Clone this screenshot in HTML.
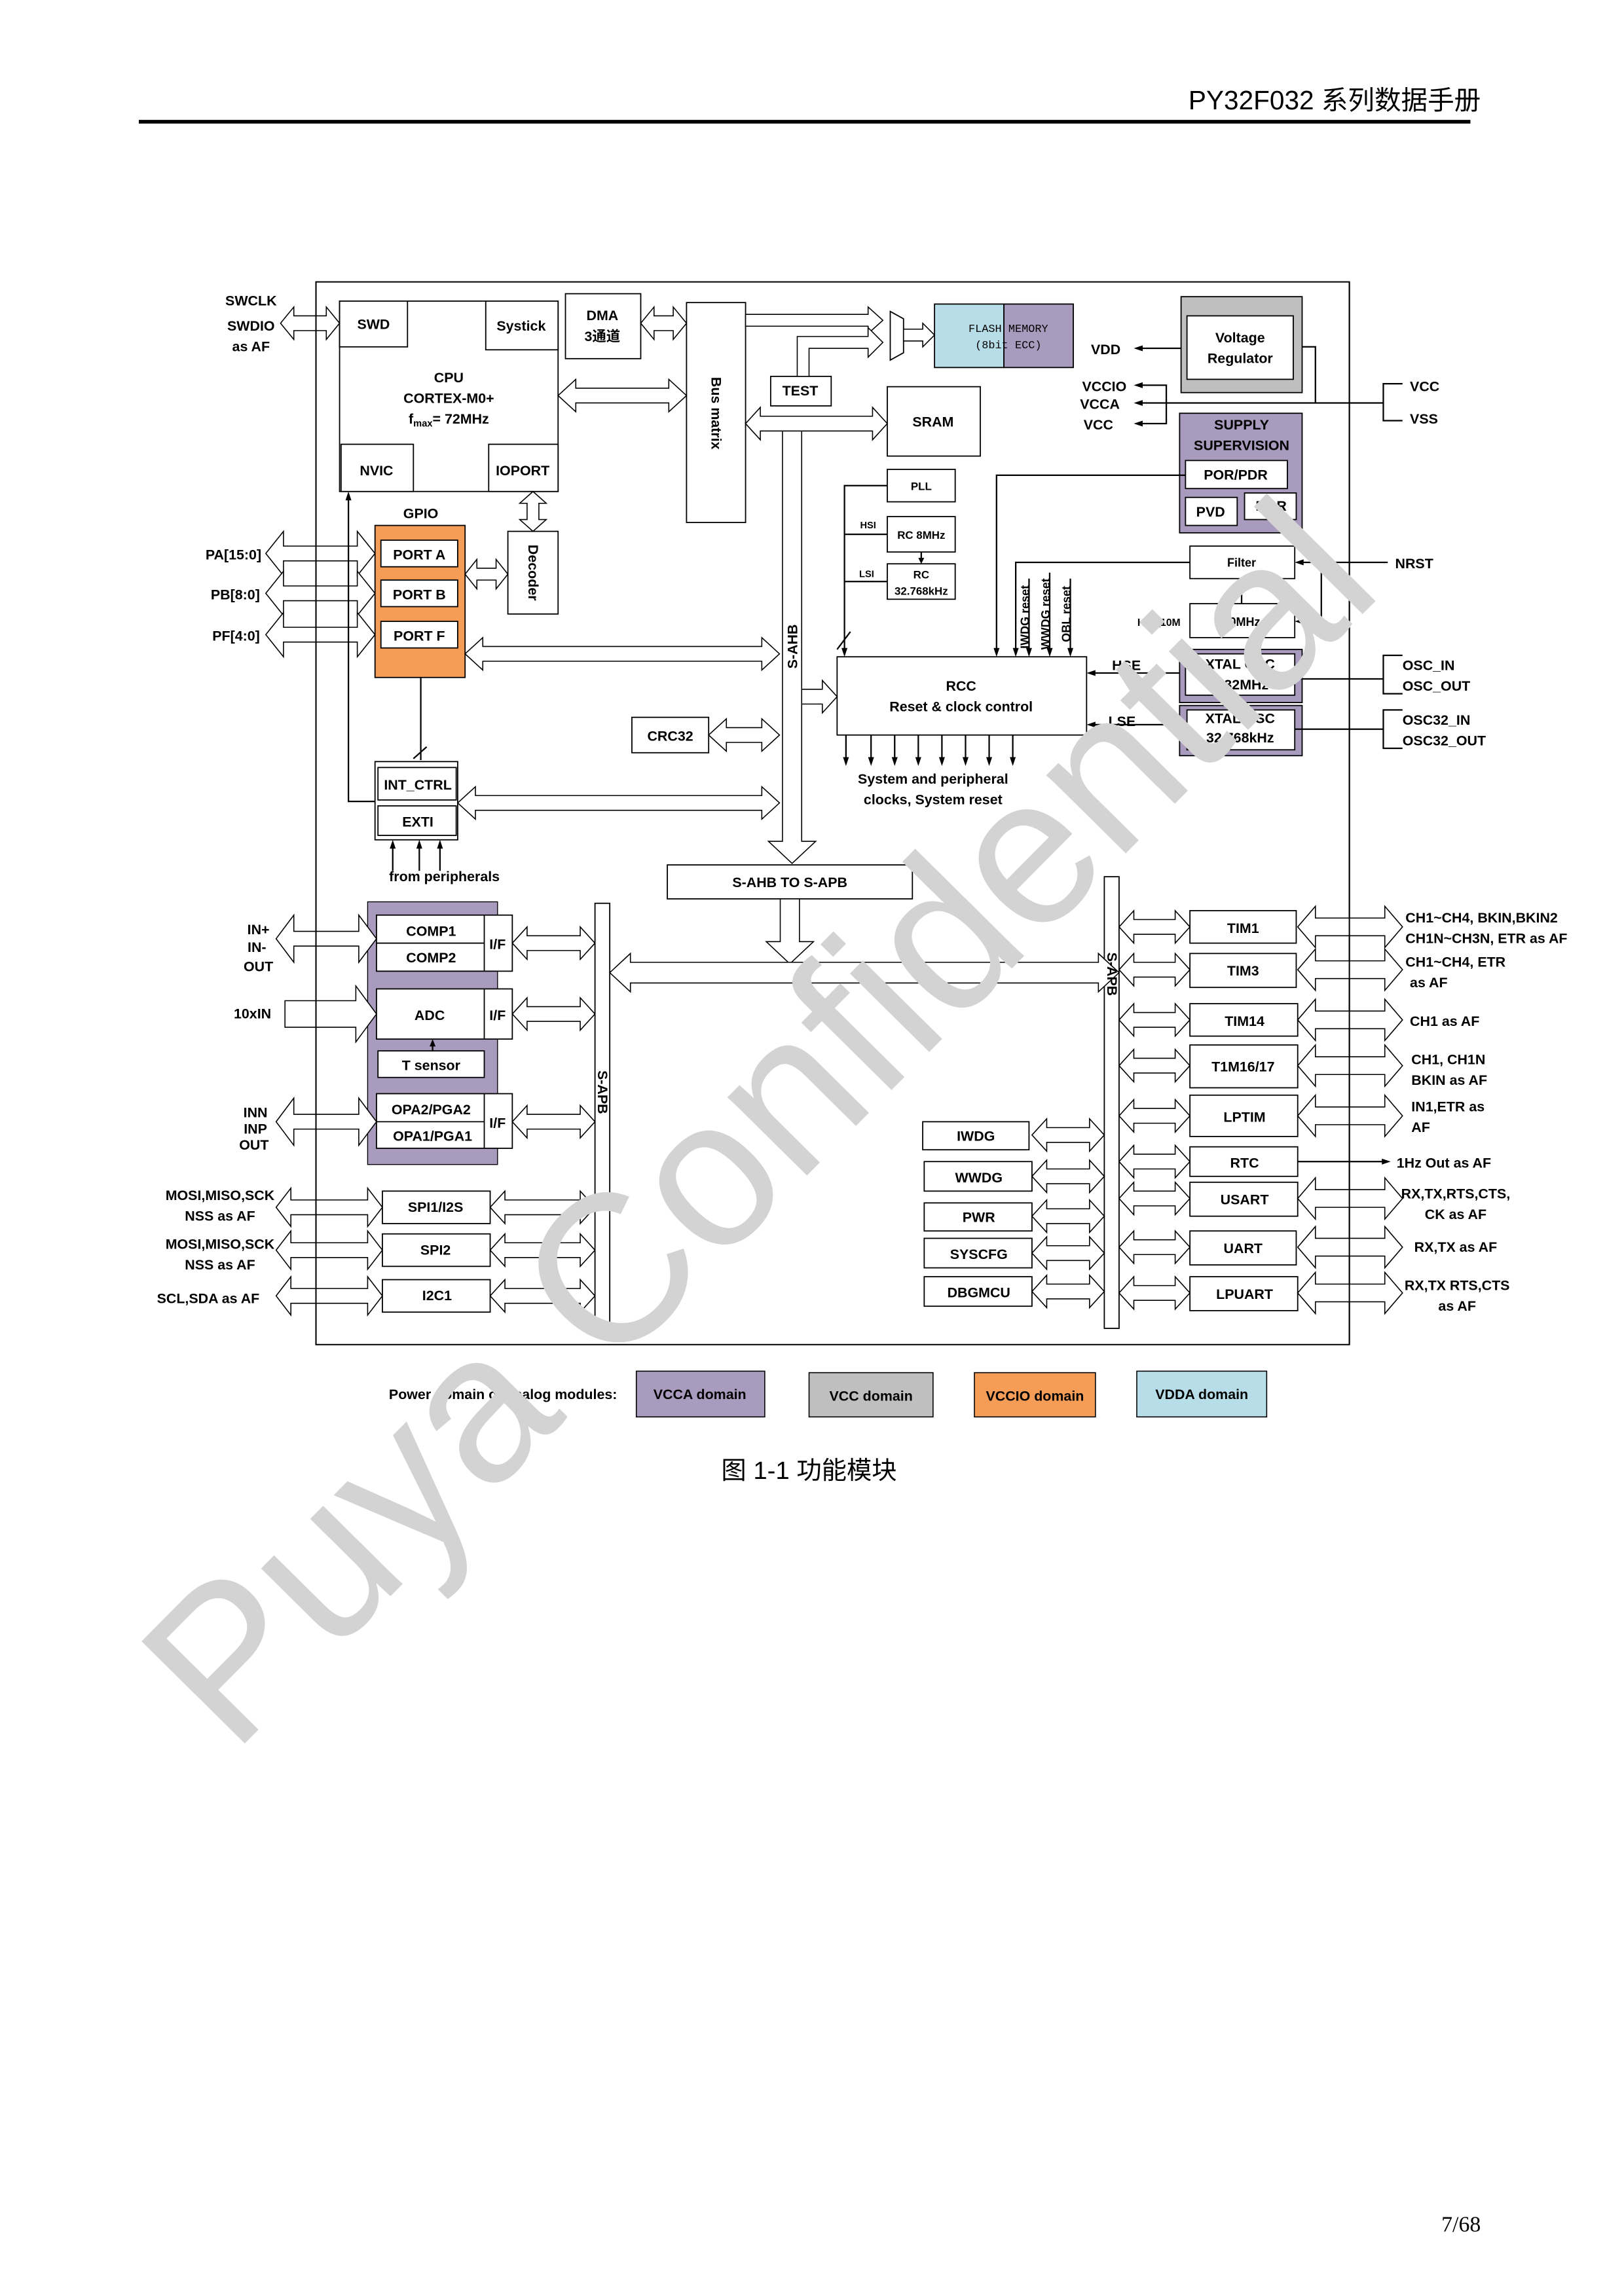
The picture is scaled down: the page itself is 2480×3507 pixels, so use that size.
<!DOCTYPE html>
<html><head><meta charset="utf-8">
<style>
html,body{margin:0;padding:0;background:#fff;}
svg{display:block;}
text{font-family:"Liberation Sans","Noto Sans CJK SC",sans-serif;font-weight:bold;font-size:9.5px;fill:#000;}
.n{font-weight:normal;}
</style></head><body>
<svg width="2480" height="3507" viewBox="0 0 1100 1555.6" xmlns="http://www.w3.org/2000/svg">
<rect x="0" y="0" width="1100" height="1556" fill="#fff"/>
<text x="1003" y="74" text-anchor="end" style="font-size:18px;font-weight:normal">PY32F032 系列数据手册</text>
<line x1="94" y1="82.5" x2="996" y2="82.5" stroke="#000" stroke-width="2.5"/>
<text x="1003" y="1512" text-anchor="end" style="font-family:'Liberation Serif',serif;font-weight:normal;font-size:15px">7/68</text>
<text x="548" y="1002" text-anchor="middle" style="font-weight:normal;font-size:17px">图 1-1 功能模块</text>

<rect x="214" y="191" width="700" height="720" fill="none" stroke="#000" stroke-width="0.9"/>

<rect x="254" y="356" width="61" height="103" fill="#f59d56" stroke="#000" stroke-width="0.8"/>
<rect x="249" y="611" width="88" height="178" fill="#a99bbd" stroke="#000" stroke-width="0.6"/>
<rect x="800" y="201" width="82" height="65" fill="#bfbfbf" stroke="#000" stroke-width="0.8"/>
<rect x="799" y="280" width="83" height="81" fill="#a99bbd" stroke="#000" stroke-width="0.8"/>
<rect x="799" y="440" width="83" height="36" fill="#a99bbd" stroke="#000" stroke-width="0.8"/>
<rect x="799" y="478" width="83" height="34" fill="#a99bbd" stroke="#000" stroke-width="0.8"/>
<rect x="633" y="206" width="47" height="43" fill="#b7dde8" stroke="#000" stroke-width="0.8"/>
<rect x="680" y="206" width="47" height="43" fill="#a99bbd" stroke="#000" stroke-width="0.8"/>

<g fill="#fff" stroke="#000" stroke-width="0.8">
<rect x="230" y="204" width="148" height="129"/>
<rect x="230" y="204" width="46" height="31"/>
<rect x="329" y="204" width="49" height="33"/>
<rect x="231" y="301" width="49" height="32"/>
<rect x="331" y="301" width="47" height="32"/>
<rect x="383" y="199" width="51" height="44"/>
<rect x="465" y="205" width="40" height="149"/>
<rect x="344" y="360" width="34" height="56"/>
<rect x="258" y="366" width="52" height="18"/>
<rect x="258" y="393" width="52" height="18"/>
<rect x="258" y="421" width="52" height="18"/>
<rect x="254" y="516" width="56" height="53"/>
<rect x="256" y="520" width="53" height="22"/>
<rect x="256" y="546" width="53" height="20"/>
<rect x="428" y="486" width="52" height="24"/>
<rect x="452" y="586" width="166" height="23"/>
<rect x="522" y="255" width="41" height="20"/>
<rect x="601" y="262" width="63" height="47"/>
<rect x="601" y="318" width="46" height="22"/>
<rect x="601" y="350" width="46" height="24"/>
<rect x="601" y="382" width="46" height="24"/>
<rect x="567" y="445" width="169" height="53"/>
<rect x="804" y="214" width="72" height="43"/>
<rect x="803" y="312" width="69" height="19"/>
<rect x="803" y="337" width="35" height="19"/>
<rect x="843" y="334" width="35" height="18"/>
<rect x="806" y="370" width="71" height="22"/>
<rect x="806" y="409" width="71" height="23"/>
<rect x="803" y="443" width="74" height="28"/>
<rect x="804" y="481" width="73" height="27"/>
<rect x="403" y="612" width="10" height="291"/>
<rect x="748" y="594" width="10" height="306"/>
<rect x="255" y="620" width="92" height="38"/>
<line x1="328" y1="620" x2="328" y2="658"/><line x1="255" y1="639" x2="328" y2="639"/>
<rect x="255" y="670" width="92" height="34"/>
<line x1="328" y1="670" x2="328" y2="704"/>
<rect x="256" y="712" width="72" height="18"/>
<rect x="255" y="741" width="92" height="37"/>
<line x1="328" y1="741" x2="328" y2="778"/><line x1="255" y1="760" x2="328" y2="760"/>
<rect x="259" y="807" width="73" height="22"/>
<rect x="259" y="836" width="73" height="22"/>
<rect x="259" y="867" width="73" height="22"/>
<rect x="625" y="760" width="72" height="19"/>
<rect x="626" y="787" width="73" height="20"/>
<rect x="626" y="815" width="73" height="19"/>
<rect x="626" y="839" width="73" height="20"/>
<rect x="626" y="865" width="73" height="20"/>
<rect x="806" y="617" width="72" height="22"/>
<rect x="806" y="646" width="72" height="23"/>
<rect x="806" y="680" width="73" height="22"/>
<rect x="806" y="708" width="73" height="29"/>
<rect x="806" y="742" width="73" height="28"/>
<rect x="806" y="777" width="73" height="20"/>
<rect x="806" y="801" width="73" height="23"/>
<rect x="806" y="834" width="72" height="23"/>
<rect x="806" y="865" width="73" height="23"/>
<polygon points="603,211 612,216 612,239 603,244"/>
</g>

<g fill="#fff" stroke="#000" stroke-width="0.7">
<polygon points="190,219 199,208 199,214 221,214 221,208 230,219 221,230 221,224 199,224 199,230"/>
<polygon points="434,219 443,208 443,214 456,214 456,208 465,219 456,230 456,224 443,224 443,230"/>
<polygon points="378,268 390,257 390,263 453,263 453,257 465,268 453,279 453,273 390,273 390,279"/>
<polygon points="361,333 370,341 365,341 365,352 370,352 361,360 352,352 357,352 357,341 352,341"/>
<polygon points="180,375 192,360 192,370 242,370 242,360 254,375 242,390 242,380 192,380 192,390"/>
<polygon points="180,402 192,387 192,397 242,397 242,387 254,402 242,417 242,407 192,407 192,417"/>
<polygon points="180,430 192,415 192,425 242,425 242,415 254,430 242,445 242,435 192,435 192,445"/>
<polygon points="315,389 323,379 323,385 336,385 336,379 344,389 336,399 336,393 323,393 323,399"/>
<polygon points="315,443 327,432 327,438 516,438 516,432 528,443 516,454 516,448 327,448 327,454"/>
<polygon points="310,544 322,533 322,539 516,539 516,533 528,544 516,555 516,549 322,549 322,555"/>
<polygon points="480,498 492,487 492,493 516,493 516,487 528,498 516,509 516,503 492,503 492,509"/>
<polygon points="505,287 515,276 515,282 591,282 591,276 601,287 591,298 591,292 515,292 515,298"/>
<polygon points="505,213 588,213 588,208 598,217 588,226 588,221 505,221"/>
<polygon points="540,255 540,228 588,228 588,222 598,232 588,242 588,236 548,236 548,255"/>
<polygon points="612,223 625,223 625,219 633,227 625,235 625,231 612,231"/>
<polygon points="543,467 557,467 557,461 567,472 557,483 557,477 543,477"/>
<polygon points="530,292 543,292 543,570 552.5,570 536.5,585 520.5,570 530,570"/>
<polygon points="528.5,609 541.5,609 541.5,638 551,638 535,653 519,638 528.5,638"/>
<polygon points="413,659 427,646 427,652 744,652 744,646 758,659 744,672 744,666 427,666 427,672"/>
<polygon points="187,636 199,620 199,631 243,631 243,620 255,636 243,652 243,641 199,641 199,652"/>
<polygon points="193,678 241,678 241,668 255,687 241,706 241,696 193,696"/>
<polygon points="187,760 199,744 199,755 243,755 243,744 255,760 243,776 243,765 199,765 199,776"/>
<polygon points="347,639 357,628 357,634 393,634 393,628 403,639 393,650 393,644 357,644 357,650"/>
<polygon points="347,687 357,676 357,682 393,682 393,676 403,687 393,698 393,692 357,692 357,698"/>
<polygon points="347,760 357,749 357,755 393,755 393,749 403,760 393,771 393,765 357,765 357,771"/>
<polygon points="187,818 197,805 197,813 249,813 249,805 259,818 249,831 249,823 197,823 197,831"/>
<polygon points="187,847 197,834 197,842 249,842 249,834 259,847 249,860 249,852 197,852 197,860"/>
<polygon points="187,878 197,865 197,873 249,873 249,865 259,878 249,891 249,883 197,883 197,891"/>
<polygon points="332,818 342,807 342,813 393,813 393,807 403,818 393,829 393,823 342,823 342,829"/>
<polygon points="332,847 342,836 342,842 393,842 393,836 403,847 393,858 393,852 342,852 342,858"/>
<polygon points="332,878 342,867 342,873 393,873 393,867 403,878 393,889 393,883 342,883 342,889"/>
<polygon points="699,769 709,758 709,764 738,764 738,758 748,769 738,780 738,774 709,774 709,780"/>
<polygon points="699,797 709,786 709,792 738,792 738,786 748,797 738,808 738,802 709,802 709,808"/>
<polygon points="699,824 709,813 709,819 738,819 738,813 748,824 738,835 738,829 709,829 709,835"/>
<polygon points="699,849 709,838 709,844 738,844 738,838 748,849 738,860 738,854 709,854 709,860"/>
<polygon points="699,875 709,864 709,870 738,870 738,864 748,875 738,886 738,880 709,880 709,886"/>
<polygon points="758,628 768,617 768,623 796,623 796,617 806,628 796,639 796,633 768,633 768,639"/>
<polygon points="758,657 768,646 768,652 796,652 796,646 806,657 796,668 796,662 768,662 768,668"/>
<polygon points="758,691 768,680 768,686 796,686 796,680 806,691 796,702 796,696 768,696 768,702"/>
<polygon points="758,722 768,711 768,717 796,717 796,711 806,722 796,733 796,727 768,727 768,733"/>
<polygon points="758,756 768,745 768,751 796,751 796,745 806,756 796,767 796,761 768,761 768,767"/>
<polygon points="758,787 768,776 768,782 796,782 796,776 806,787 796,798 796,792 768,792 768,798"/>
<polygon points="758,812 768,801 768,807 796,807 796,801 806,812 796,823 796,817 768,817 768,823"/>
<polygon points="758,845 768,834 768,840 796,840 796,834 806,845 796,856 796,850 768,850 768,856"/>
<polygon points="758,876 768,865 768,871 796,871 796,865 806,876 796,887 796,881 768,881 768,887"/>
<polygon points="879,628 891,614 891,622 938,622 938,614 950,628 938,642 938,634 891,634 891,642"/>
<polygon points="879,657 891,643 891,651 938,651 938,643 950,657 938,671 938,663 891,663 891,671"/>
<polygon points="879,691 891,677 891,685 938,685 938,677 950,691 938,705 938,697 891,697 891,705"/>
<polygon points="879,722 891,708 891,716 938,716 938,708 950,722 938,736 938,728 891,728 891,736"/>
<polygon points="879,756 891,742 891,750 938,750 938,742 950,756 938,770 938,762 891,762 891,770"/>
<polygon points="879,812 891,798 891,806 938,806 938,798 950,812 938,826 938,818 891,818 891,826"/>
<polygon points="879,845 891,831 891,839 938,839 938,831 950,845 938,859 938,851 891,851 891,859"/>
<polygon points="879,876 891,862 891,870 938,870 938,862 950,876 938,890 938,882 891,882 891,890"/>
</g>
<!-- border lines over arrows -->
<line x1="214" y1="191" x2="214" y2="911" stroke="#000" stroke-width="0.9"/>
<line x1="914" y1="191" x2="914" y2="911" stroke="#000" stroke-width="0.9"/>

<g fill="none" stroke="#000" stroke-width="1">
<polyline points="236,337 236,543 254,543"/>
<line x1="285" y1="459" x2="285" y2="515"/>
<line x1="280" y1="514" x2="289" y2="506"/>
<line x1="266" y1="590" x2="266" y2="572"/><line x1="284" y1="590" x2="284" y2="572"/><line x1="298" y1="590" x2="298" y2="572"/>
<polyline points="601,329 572,329 572,442"/>
<line x1="572" y1="362" x2="601" y2="362"/><line x1="572" y1="394" x2="601" y2="394"/>
<line x1="567" y1="440" x2="576" y2="428"/>
<line x1="624" y1="374" x2="624" y2="380"/>
<polyline points="803,322 675,322 675,442"/>
<polyline points="806,381 688,381 688,442"/>
<line x1="697" y1="392" x2="697" y2="442"/><line x1="711" y1="388" x2="711" y2="442"/><line x1="725" y1="392" x2="725" y2="442"/>
<line x1="841" y1="409" x2="841" y2="396"/>
<line x1="940" y1="381" x2="880" y2="381"/>
<polyline points="895,381 895,421 880,421"/>
<line x1="799" y1="456" x2="739" y2="456"/>
<line x1="799" y1="491" x2="739" y2="491"/>
<line x1="877" y1="460" x2="937" y2="460"/>
<line x1="877" y1="494" x2="937" y2="494"/>
<polyline points="950,444 937,444 937,470 950,470"/>
<polyline points="950,481 937,481 937,507 950,507"/>
<line x1="800" y1="236" x2="772" y2="236"/>
<polyline points="772,261 790,261 790,287 772,287"/>
<line x1="772" y1="273" x2="937" y2="273"/>
<polyline points="882,235 891,235 891,273"/>
<polyline points="950,260 937,260 937,285 950,285"/>
<line x1="293" y1="712" x2="293" y2="706"/>
<line x1="879" y1="787" x2="938" y2="787"/>
<line x1="573" y1="498" x2="573" y2="516"/><line x1="590" y1="498" x2="590" y2="516"/><line x1="606" y1="498" x2="606" y2="516"/><line x1="622" y1="498" x2="622" y2="516"/><line x1="638" y1="498" x2="638" y2="516"/><line x1="654" y1="498" x2="654" y2="516"/><line x1="670" y1="498" x2="670" y2="516"/><line x1="686" y1="498" x2="686" y2="516"/>
</g>
<g fill="#000">
<polygon points="236,333 234,339 238,339"/>
<polygon points="266,569 264,575 268,575"/><polygon points="284,569 282,575 286,575"/><polygon points="298,569 296,575 300,575"/>
<polygon points="572,445 570,439 574,439"/><polygon points="675,445 673,439 677,439"/><polygon points="688,445 686,439 690,439"/>
<polygon points="697,445 695,439 699,439"/><polygon points="711,445 709,439 713,439"/><polygon points="725,445 723,439 727,439"/>
<polygon points="624,382 622,378 626,378"/>
<polygon points="841,392 839,398 843,398"/>
<polygon points="877,381 883,379 883,383"/><polygon points="877,421 883,419 883,423"/>
<polygon points="736,456 742,454 742,458"/><polygon points="736,491 742,489 742,493"/>
<polygon points="768,236 774,234 774,238"/><polygon points="768,261 774,259 774,263"/><polygon points="768,273 774,271 774,275"/><polygon points="768,287 774,285 774,289"/>
<polygon points="293,704 291,709 295,709"/>
<polygon points="942,787 936,785 936,789"/>
<polygon points="573,519 571,513 575,513"/><polygon points="590,519 588,513 592,513"/><polygon points="606,519 604,513 608,513"/><polygon points="622,519 620,513 624,513"/><polygon points="638,519 636,513 640,513"/><polygon points="654,519 652,513 656,513"/><polygon points="670,519 668,513 672,513"/><polygon points="686,519 684,513 688,513"/>
</g>

<text x="170" y="207" text-anchor="middle">SWCLK</text>
<text x="170" y="224" text-anchor="middle">SWDIO</text>
<text x="170" y="238" text-anchor="middle">as AF</text>
<text x="253" y="223" text-anchor="middle">SWD</text>
<text x="353" y="224" text-anchor="middle">Systick</text>
<text x="304" y="259" text-anchor="middle">CPU</text>
<text x="304" y="273" text-anchor="middle">CORTEX-M0+</text>
<text x="304" y="287" text-anchor="middle">f<tspan font-size="6.5" dy="2">max</tspan><tspan dy="-2">= 72MHz</tspan></text>
<text x="255" y="322" text-anchor="middle">NVIC</text>
<text x="354" y="322" text-anchor="middle">IOPORT</text>
<text x="408" y="217" text-anchor="middle">DMA</text>
<text x="408" y="231" text-anchor="middle">3通道</text>
<text transform="translate(482,280) rotate(90)" text-anchor="middle">Bus matrix</text>
<text transform="translate(358,388) rotate(90)" text-anchor="middle">Decoder</text>
<text x="285" y="351" text-anchor="middle">GPIO</text>
<text x="284" y="379" text-anchor="middle">PORT A</text>
<text x="284" y="406" text-anchor="middle">PORT B</text>
<text x="284" y="434" text-anchor="middle">PORT F</text>
<text x="177" y="379" text-anchor="end">PA[15:0]</text>
<text x="176" y="406" text-anchor="end">PB[8:0]</text>
<text x="176" y="434" text-anchor="end">PF[4:0]</text>
<text x="283" y="535" text-anchor="middle">INT_CTRL</text>
<text x="283" y="560" text-anchor="middle">EXTI</text>
<text x="301" y="597" text-anchor="middle">from peripherals</text>
<text x="454" y="502" text-anchor="middle">CRC32</text>
<text transform="translate(540,438) rotate(-90)" text-anchor="middle">S-AHB</text>
<text x="535" y="601" text-anchor="middle">S-AHB TO S-APB</text>
<text transform="translate(405,740) rotate(90)" text-anchor="middle">S-APB</text>
<text transform="translate(750,660) rotate(90)" text-anchor="middle">S-APB</text>
<text x="542" y="268" text-anchor="middle">TEST</text>
<text x="632" y="289" text-anchor="middle">SRAM</text>
<text x="683" y="225" text-anchor="middle" style="font-family:'Liberation Mono',monospace;font-weight:normal;font-size:7.5px">FLASH MEMORY</text>
<text x="683" y="236" text-anchor="middle" style="font-family:'Liberation Mono',monospace;font-weight:normal;font-size:7.5px">(8bit ECC)</text>
<text x="624" y="332" text-anchor="middle" style="font-size:7.5px">PLL</text>
<text x="624" y="365" text-anchor="middle" style="font-size:7.5px">RC 8MHz</text>
<text x="624" y="392" text-anchor="middle" style="font-size:7.5px">RC</text>
<text x="624" y="403" text-anchor="middle" style="font-size:7.5px">32.768kHz</text>
<text x="588" y="358" text-anchor="middle" style="font-size:6.5px">HSI</text>
<text x="587" y="391" text-anchor="middle" style="font-size:6.5px">LSI</text>
<text x="651" y="468" text-anchor="middle">RCC</text>
<text x="651" y="482" text-anchor="middle">Reset &amp; clock control</text>
<text x="632" y="531" text-anchor="middle">System and peripheral</text>
<text x="632" y="545" text-anchor="middle">clocks, System reset</text>
<text transform="translate(697,418) rotate(-90)" text-anchor="middle" style="font-size:8px">IWDG reset</text>
<text transform="translate(711,416) rotate(-90)" text-anchor="middle" style="font-size:8px">WWDG reset</text>
<text transform="translate(725,416) rotate(-90)" text-anchor="middle" style="font-size:8px">OBL reset</text>
<text x="749" y="240" text-anchor="middle">VDD</text>
<text x="748" y="265" text-anchor="middle">VCCIO</text>
<text x="745" y="277" text-anchor="middle">VCCA</text>
<text x="744" y="291" text-anchor="middle">VCC</text>
<text x="840" y="232" text-anchor="middle">Voltage</text>
<text x="840" y="246" text-anchor="middle">Regulator</text>
<text x="955" y="265">VCC</text>
<text x="955" y="287">VSS</text>
<text x="841" y="291" text-anchor="middle">SUPPLY</text>
<text x="841" y="305" text-anchor="middle">SUPERVISION</text>
<text x="837" y="325" text-anchor="middle">POR/PDR</text>
<text x="820" y="350" text-anchor="middle">PVD</text>
<text x="861" y="346" text-anchor="middle">BOR</text>
<text x="841" y="384" text-anchor="middle" style="font-size:8px">Filter</text>
<text x="841" y="424" text-anchor="middle" style="font-size:8px">10MHz</text>
<text x="785" y="424" text-anchor="middle" style="font-size:7px">HSI_10M</text>
<text x="945" y="385">NRST</text>
<text x="840" y="453" text-anchor="middle">XTAL OSC</text>
<text x="840" y="467" text-anchor="middle">4-32MHz</text>
<text x="840" y="490" text-anchor="middle">XTAL OSC</text>
<text x="840" y="503" text-anchor="middle">32.768kHz</text>
<text x="763" y="454" text-anchor="middle">HSE</text>
<text x="760" y="492" text-anchor="middle">LSE</text>
<text x="950" y="454">OSC_IN</text>
<text x="950" y="468">OSC_OUT</text>
<text x="950" y="491">OSC32_IN</text>
<text x="950" y="505">OSC32_OUT</text>
<text x="292" y="634" text-anchor="middle">COMP1</text>
<text x="292" y="652" text-anchor="middle">COMP2</text>
<text x="337" y="643" text-anchor="middle">I/F</text>
<text x="291" y="691" text-anchor="middle">ADC</text>
<text x="337" y="691" text-anchor="middle">I/F</text>
<text x="292" y="725" text-anchor="middle">T sensor</text>
<text x="292" y="755" text-anchor="middle">OPA2/PGA2</text>
<text x="293" y="773" text-anchor="middle">OPA1/PGA1</text>
<text x="337" y="764" text-anchor="middle">I/F</text>
<text x="175" y="633" text-anchor="middle">IN+</text>
<text x="174" y="645" text-anchor="middle">IN-</text>
<text x="175" y="658" text-anchor="middle">OUT</text>
<text x="171" y="690" text-anchor="middle">10xIN</text>
<text x="173" y="757" text-anchor="middle">INN</text>
<text x="173" y="768" text-anchor="middle">INP</text>
<text x="172" y="779" text-anchor="middle">OUT</text>
<text x="295" y="821" text-anchor="middle">SPI1/I2S</text>
<text x="295" y="850" text-anchor="middle">SPI2</text>
<text x="296" y="881" text-anchor="middle">I2C1</text>
<text x="149" y="813" text-anchor="middle">MOSI,MISO,SCK</text>
<text x="149" y="827" text-anchor="middle">NSS as AF</text>
<text x="149" y="846" text-anchor="middle">MOSI,MISO,SCK</text>
<text x="149" y="860" text-anchor="middle">NSS as AF</text>
<text x="141" y="883" text-anchor="middle">SCL,SDA as AF</text>
<text x="661" y="773" text-anchor="middle">IWDG</text>
<text x="663" y="801" text-anchor="middle">WWDG</text>
<text x="663" y="828" text-anchor="middle">PWR</text>
<text x="663" y="853" text-anchor="middle">SYSCFG</text>
<text x="663" y="879" text-anchor="middle">DBGMCU</text>
<text x="842" y="632" text-anchor="middle">TIM1</text>
<text x="842" y="661" text-anchor="middle">TIM3</text>
<text x="843" y="695" text-anchor="middle">TIM14</text>
<text x="842" y="726" text-anchor="middle">T1M16/17</text>
<text x="843" y="760" text-anchor="middle">LPTIM</text>
<text x="843" y="791" text-anchor="middle">RTC</text>
<text x="843" y="816" text-anchor="middle">USART</text>
<text x="842" y="849" text-anchor="middle">UART</text>
<text x="843" y="880" text-anchor="middle">LPUART</text>
<text x="952" y="625">CH1~CH4, BKIN,BKIN2</text>
<text x="952" y="639">CH1N~CH3N, ETR  as AF</text>
<text x="952" y="655">CH1~CH4,  ETR</text>
<text x="955" y="669">as AF</text>
<text x="955" y="695">CH1 as AF</text>
<text x="956" y="721">CH1, CH1N</text>
<text x="956" y="735">BKIN as AF</text>
<text x="956" y="753">IN1,ETR as</text>
<text x="956" y="767">AF</text>
<text x="946" y="791">1Hz Out as AF</text>
<text x="986" y="812" text-anchor="middle">RX,TX,RTS,CTS,</text>
<text x="986" y="826" text-anchor="middle">CK as AF</text>
<text x="986" y="848" text-anchor="middle">RX,TX as AF</text>
<text x="987" y="874" text-anchor="middle">RX,TX RTS,CTS</text>
<text x="987" y="888" text-anchor="middle">as AF</text>

<text x="418" y="948" text-anchor="end">Power domain of analog modules:</text>
<rect x="431" y="929" width="87" height="31" fill="#a99bbd" stroke="#000" stroke-width="0.7"/>
<rect x="548" y="930" width="84" height="30" fill="#bfbfbf" stroke="#000" stroke-width="0.7"/>
<rect x="660" y="930" width="82" height="30" fill="#f59d56" stroke="#000" stroke-width="0.7"/>
<rect x="770" y="929" width="88" height="31" fill="#b7dde8" stroke="#000" stroke-width="0.7"/>
<text x="474" y="948" text-anchor="middle">VCCA domain</text>
<text x="590" y="949" text-anchor="middle">VCC domain</text>
<text x="701" y="949" text-anchor="middle">VCCIO domain</text>
<text x="814" y="948" text-anchor="middle">VDDA domain</text>

<text transform="translate(548,795) rotate(-45.3)" text-anchor="middle" textLength="1110" lengthAdjust="spacingAndGlyphs" style="font-weight:normal;font-size:143px;fill:#d3d3d3">Puya Confidential</text>
</svg>
</body></html>
